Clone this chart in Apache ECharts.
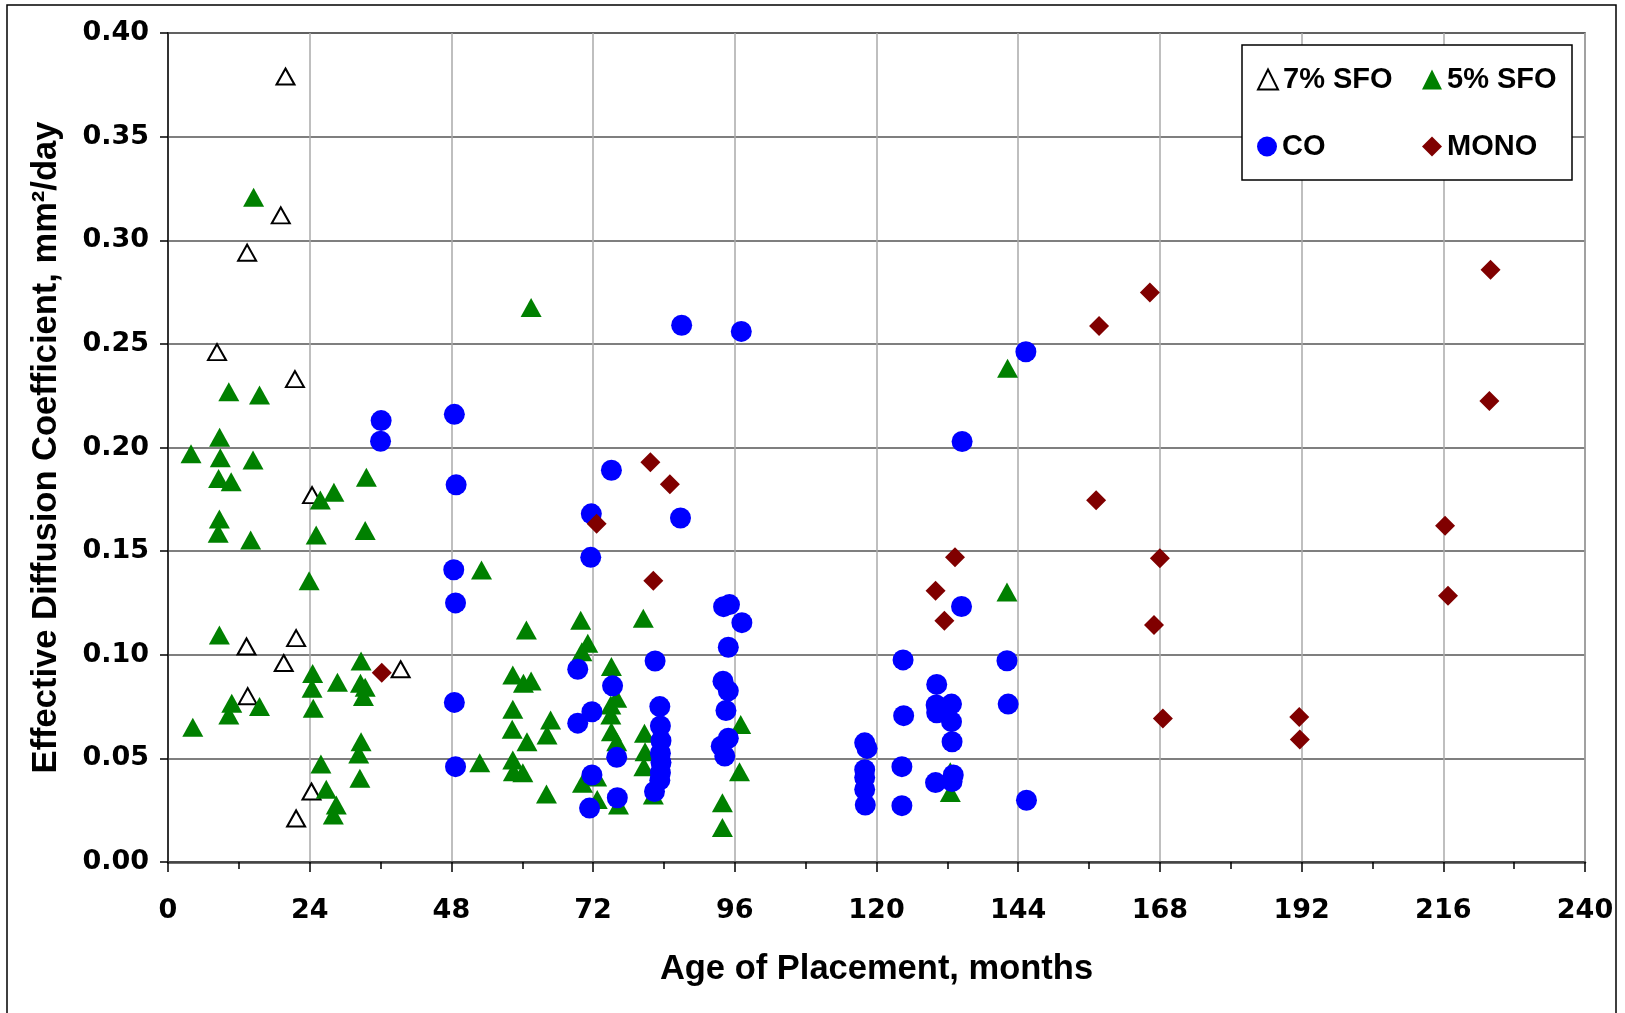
<!DOCTYPE html>
<html><head><meta charset="utf-8">
<script src="https://cdn.jsdelivr.net/npm/echarts@6/dist/echarts.min.js"></script>
<style>html,body{margin:0;padding:0;background:#fff}#c{width:1625px;height:1013px}</style>
</head><body><div id="c"></div>
<script>
// ---- data (months, mm2/day) ----
const seriesNames = ['7% SFO', '5% SFO', 'CO', 'MONO'];
const xTickStep = 24;
const yTickStep = 0.05;

const sfo7 = [
  [19.9,0.379],[19.1,0.312],[13.4,0.294],[8.3,0.246],[21.5,0.233],[24.4,0.177],
  [13.3,0.104],[21.7,0.108],[19.6,0.096],[39.4,0.093],[13.5,0.080],[24.3,0.034],[21.7,0.021]
];

const sfo5 = [
  [14.5,0.3207],[61.5,0.2676],[10.3,0.2269],[15.5,0.2253],[8.74,0.205],[3.9,0.197],[8.86,0.195],[14.4,0.194],
  [8.57,0.1851],[10.7,0.1835],[33.6,0.1856],[25.8,0.1747],[28.1,0.1784],[8.7,0.1655],[8.5,0.1586],[14.0,0.1554],
  [25.1,0.1578],[33.4,0.1599],[53.1,0.1409],[23.9,0.1357],[60.7,0.1119],[8.7,0.1095],[32.7,0.0970],[24.5,0.0910],
  [28.7,0.0867],[32.6,0.0862],[33.4,0.0843],[24.4,0.0838],[33.1,0.0798],[58.4,0.0902],[60.2,0.0862],[61.5,0.0873],
  [24.6,0.0742],[10.8,0.0766],[15.5,0.0750],[10.3,0.0709],[4.2,0.0650],[58.4,0.0737],[58.3,0.0640],[60.8,0.0580],
  [32.7,0.0580],[32.3,0.0521],[32.5,0.0404],[25.9,0.0473],[52.8,0.0479],[58.4,0.0492],[58.5,0.0436],[60.1,0.0431],
  [64.1,0.0328],[26.8,0.0351],[28.5,0.0275],[28.0,0.0227],
  [69.9,0.1166],[80.5,0.1176],[71.1,0.1055],[70.1,0.1015],[75.1,0.0943],[76.0,0.0790],[75.0,0.0758],[75.0,0.0709],
  [75.1,0.0629],[76.0,0.0580],[64.8,0.0685],[64.2,0.0613],[80.7,0.0621],[80.8,0.0532],[80.6,0.0460],[70.2,0.0380],
  [72.6,0.0410],[72.7,0.0302],[76.3,0.0275],[82.2,0.0323],[93.9,0.0286],[93.9,0.0167],[96.8,0.0435],[97.0,0.0664],
  [142.2,0.2382],[142.1,0.1303],[132.5,0.0435],[132.5,0.0335]
];

const co = [
  [36.1,0.213],[36.0,0.203],[48.5,0.216],[48.8,0.182],[48.4,0.141],[48.7,0.125],[48.5,0.077],[48.7,0.046],
  [87.0,0.259],[97.1,0.256],[75.1,0.189],[71.7,0.168],[86.8,0.166],[71.6,0.147],
  [69.4,0.093],[82.5,0.097],[75.3,0.085],[71.8,0.0725],[69.4,0.067],[76.0,0.0505],[71.8,0.042],[71.4,0.026],[76.1,0.031],
  [83.3,0.075],[83.4,0.0656],[83.5,0.0585],[83.4,0.0525],[83.5,0.048],[83.4,0.0431],[83.3,0.0395],[82.4,0.034],
  [94.1,0.1232],[95.1,0.1242],[97.2,0.1155],[94.9,0.1036],[94.0,0.0872],[94.9,0.0826],[94.5,0.0731],[94.9,0.0597],
  [93.7,0.0559],[94.3,0.0511],
  [118.0,0.0575],[118.4,0.0548],[118.0,0.0445],[118.0,0.0408],[118.0,0.035],[118.1,0.0275],
  [124.5,0.0975],[124.6,0.0706],[124.3,0.046],[124.3,0.0272],
  [130.2,0.0857],[130.1,0.0758],[132.7,0.0762],[130.2,0.072],[132.7,0.0677],[132.8,0.058],[130.0,0.0383],[133.0,0.042],
  [132.8,0.0388],
  [134.5,0.2029],[134.4,0.1233],[142.1,0.0971],[142.3,0.0762],[145.3,0.2462],[145.4,0.0298]
];

const mono = [
  [36.2,0.0913],[72.6,0.1632],[81.7,0.1929],[85.0,0.1823],[82.2,0.1357],[130.0,0.1309],[131.5,0.1164],[133.3,0.1471],
  [157.7,0.2586],[157.2,0.1745],[166.3,0.2748],[168.0,0.1466],[167.0,0.1143],[168.5,0.0692],[191.6,0.0700],[191.7,0.0591],
  [216.3,0.1622],[216.8,0.1285],[224.0,0.2858],[223.8,0.2224]
];

// ---- chart ----
const chart = echarts.init(document.getElementById('c'), null, {renderer: 'canvas'});
const titleFont = {fontFamily: 'Liberation Sans', fontWeight: 'bold', fontSize: 34.5, color: '#000'};
const tickFont = {fontFamily: 'DejaVu Sans', fontWeight: 'bold', fontSize: 27, color: '#000'};
const legendCommon = {
  orient: 'horizontal', padding: 0, itemWidth: 20, itemHeight: 20, itemGap: 0,
  selectedMode: false, z: 10,
  textStyle: {fontFamily: 'Liberation Sans', fontWeight: 'bold', fontSize: 29, color: '#000', padding: [0,0,0,0]}
};

const option = {
  backgroundColor: '#fff',
  animation: false,
  grid: {left: 168, top: 33, right: 40, bottom: 151, show: true, borderColor: '#888', borderWidth: 2, backgroundColor: 'transparent'},
  xAxis: {
    type: 'value', min: 0, max: 240, interval: xTickStep,
    name: 'Age of Placement, months', nameLocation: 'middle', nameGap: 90, nameTextStyle: titleFont,
    axisLine: {show: true, onZero: false, lineStyle: {color: '#444', width: 2.5}},
    axisTick: {show: true, length: 10, lineStyle: {color: '#000', width: 1.5}},
    minorTick: {show: true, splitNumber: 2, length: 7, lineStyle: {color: '#000', width: 1.5}},
    axisLabel: Object.assign({margin: 35}, tickFont),
    splitLine: {show: true, lineStyle: {color: '#aaa', width: 1.5}}
  },
  yAxis: {
    type: 'value', min: 0, max: 0.4, interval: yTickStep,
    name: 'Effective Diffusion Coefficient, mm²/day', nameLocation: 'middle', nameGap: 104, nameTextStyle: titleFont,
    axisLine: {show: true, onZero: false, lineStyle: {color: '#333', width: 2}},
    axisTick: {show: true, length: 8, lineStyle: {color: '#000', width: 1.5}},
    axisLabel: Object.assign({margin: 19, formatter: v => v.toFixed(2)}, tickFont),
    splitLine: {show: true, lineStyle: {color: '#555', width: 1.5}}
  },
  legend: [
    Object.assign({left: 1257, top: 65, data: [{name: seriesNames[0], icon: 'triangle', itemStyle: {color: '#fff', borderColor: '#000', borderWidth: 2}}]}, legendCommon),
    Object.assign({left: 1422, top: 65, data: [{name: seriesNames[1], icon: 'triangle'}]}, legendCommon),
    Object.assign({left: 1257, top: 132, data: [{name: seriesNames[2], icon: 'circle'}]}, legendCommon),
    Object.assign({left: 1422, top: 132, data: [{name: seriesNames[3], icon: 'diamond'}]}, legendCommon)
  ],
  graphic: [
    {type: 'rect', z: 5, shape: {x: 1242, y: 45, width: 330, height: 135}, style: {fill: '#fff', stroke: '#000', lineWidth: 1.5}},
    {type: 'rect', z: 5, shape: {x: 7, y: 5, width: 1609, height: 1030}, style: {fill: 'none', stroke: '#000', lineWidth: 1.5}}
  ],
  series: [
    {name: seriesNames[0], type: 'scatter', data: sfo7, symbol: 'triangle', symbolSize: [18, 16], z: 2,
     itemStyle: {color: '#fff', borderColor: '#000', borderWidth: 2, opacity: 1}},
    {name: seriesNames[1], type: 'scatter', data: sfo5, symbol: 'triangle', symbolSize: [21, 19], z: 3,
     itemStyle: {color: '#008000', opacity: 1}},
    {name: seriesNames[2], type: 'scatter', data: co, symbol: 'circle', symbolSize: 21, z: 4,
     itemStyle: {color: '#0000ff', opacity: 1}},
    {name: seriesNames[3], type: 'scatter', data: mono, symbol: 'diamond', symbolSize: 20, z: 5,
     itemStyle: {color: '#800000', opacity: 1}}
  ]
};
chart.setOption(option);
</script>
</body></html>
